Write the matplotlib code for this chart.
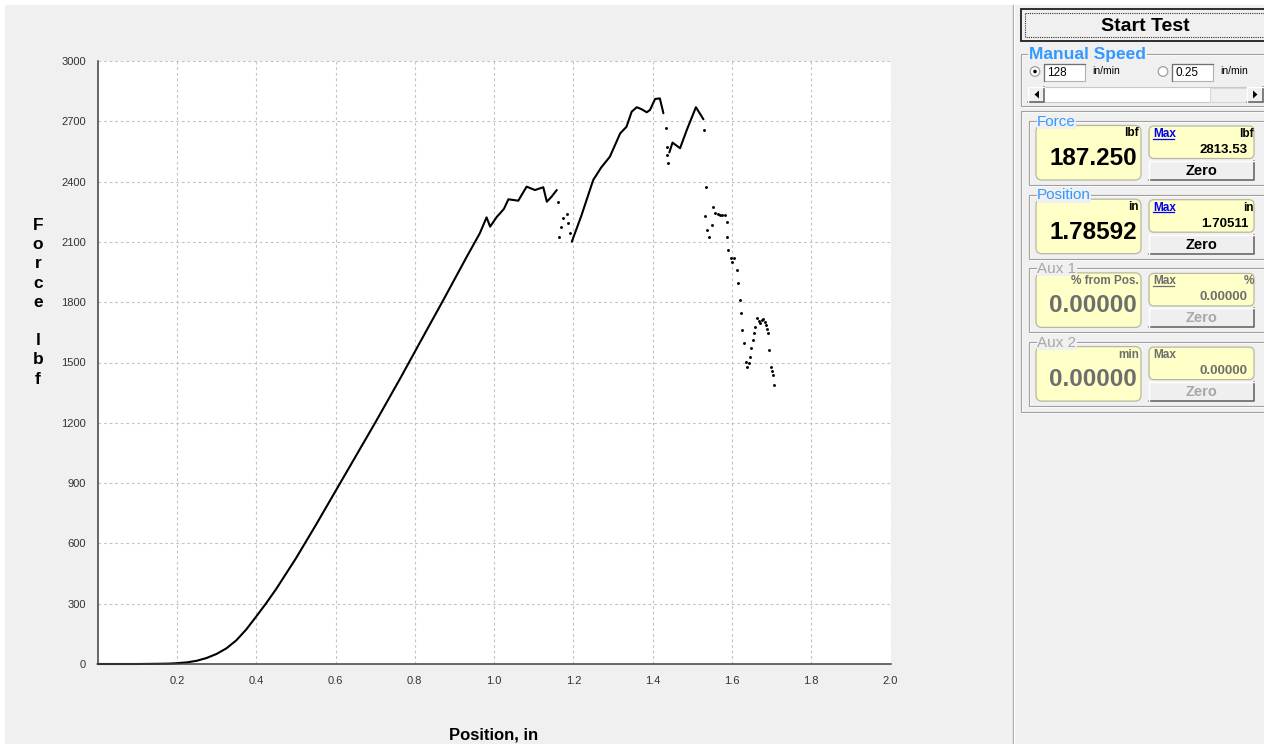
import numpy as np
import matplotlib.pyplot as plt
from matplotlib.patches import Rectangle, FancyBboxPatch, Circle, Polygon

plt.rcParams['font.family'] = ['Liberation Sans', 'DejaVu Sans']

W, H = 1264, 744
BG = '#f0f0f0'

# force vs position, continuous stretch up to the first break
pos_a = [0.0, 0.10, 0.15, 0.18, 0.20, 0.225, 0.25, 0.275, 0.30, 0.325, 0.35,
         0.375, 0.40, 0.425, 0.45, 0.50, 0.55, 0.60, 0.65, 0.70, 0.763, 0.82,
         0.872, 0.931, 0.964, 0.981, 0.990, 1.007, 1.015, 1.025, 1.036, 1.061,
         1.082, 1.103, 1.124, 1.133, 1.145, 1.158]
frc_a = [0, 0, 1, 2, 4, 8, 16, 30, 50, 78, 118,
         172, 236, 302, 372, 525, 690, 860, 1030, 1200, 1420, 1625,
         1811, 2026, 2143, 2222, 2176, 2225, 2242, 2265, 2312, 2305,
         2375, 2358, 2372, 2300, 2325, 2358]

# scattered readings around the first dip
pos_b = [1.162, 1.164, 1.169, 1.175, 1.183, 1.187, 1.191]
frc_b = [2300, 2126, 2176, 2217, 2239, 2193, 2143]

# reload up to the peak
pos_c = [1.196, 1.22, 1.250, 1.27, 1.292, 1.318, 1.334, 1.347, 1.360, 1.372,
         1.385, 1.393, 1.406, 1.418, 1.427]
frc_c = [2101, 2230, 2408, 2470, 2524, 2640, 2673, 2748, 2770, 2760,
         2745, 2756, 2811, 2814, 2740]

pos_d = [1.434, 1.435, 1.437, 1.439]
frc_d = [2665, 2574, 2530, 2491]

pos_e = [1.442, 1.450, 1.469, 1.486, 1.509, 1.528]
frc_e = [2545, 2594, 2566, 2657, 2770, 2710]

# failure tail
pos_f = [1.529, 1.534, 1.532, 1.536, 1.542, 1.549, 1.553, 1.557, 1.564, 1.570,
         1.576, 1.582, 1.587, 1.588, 1.591, 1.597, 1.601, 1.605, 1.612, 1.616,
         1.620, 1.623, 1.626, 1.630, 1.635, 1.639, 1.642, 1.645, 1.648, 1.652,
         1.655, 1.658, 1.664, 1.668, 1.671, 1.675, 1.679, 1.683, 1.686, 1.689,
         1.692, 1.694, 1.698, 1.700, 1.703, 1.706]
frc_f = [2657, 2372, 2231, 2159, 2126, 2184, 2275, 2242, 2238, 2234,
         2236, 2234, 2201, 2126, 2060, 2018, 2000, 2018, 1960, 1894,
         1811, 1745, 1662, 1595, 1504, 1479, 1500, 1529, 1570, 1612,
         1645, 1678, 1720, 1705, 1695, 1712, 1715, 1700, 1687, 1665,
         1645, 1562, 1479, 1460, 1438, 1388]

x_ticks = [0.2, 0.4, 0.6, 0.8, 1.0, 1.2, 1.4, 1.6, 1.8, 2.0]
x_labels = ['0.2', '0.4', '0.6', '0.8', '1.0', '1.2', '1.4', '1.6', '1.8', '2.0']
y_ticks = [0, 300, 600, 900, 1200, 1500, 1800, 2100, 2400, 2700, 3000]

# readout panel values
group_names = ['Force', 'Position', 'Aux 1', 'Aux 2']
group_units = ['lbf', 'in', '% from Pos.', 'min']
group_values = ['187.250', '1.78592', '0.00000', '0.00000']
max_units = ['lbf', 'in', '%', '']
max_values = ['2813.53', '1.70511', '0.00000', '0.00000']
speed_values = ['128', '0.25']

fig = plt.figure(figsize=(W / 100, H / 100), dpi=100, facecolor=BG)

# overlay in pixel coordinates for the window chrome
ui = fig.add_axes([0, 0, 1, 1], zorder=0)
ui.set_xlim(0, W)
ui.set_ylim(H, 0)
ui.axis('off')

ax = fig.add_axes([97.6 / W, (H - 664) / H, 793 / W, 603 / H], zorder=1)
ax.set_facecolor('white')
ax.set_xlim(0, 2.0)
ax.set_ylim(0, 3000)
ax.set_xticks(x_ticks)
ax.set_xticklabels(x_labels)
ax.set_yticks(y_ticks)
ax.grid(True, color='#c4c4c4', ls=(0, (2.5, 2.5)), lw=0.8)
ax.set_axisbelow(True)
for s in ['top', 'right']:
    ax.spines[s].set_visible(False)
for s in ['left', 'bottom']:
    ax.spines[s].set_color('#404040')
    ax.spines[s].set_linewidth(1.1)
ax.tick_params(length=0, labelsize=8, labelcolor='#333333')
ax.tick_params(axis='x', pad=9)
ax.tick_params(axis='y', pad=8.5)

ax.plot(pos_a, frc_a, color='k', lw=1.5, solid_capstyle='round',
        solid_joinstyle='round', clip_on=False)
ax.plot(pos_c, frc_c, color='k', lw=1.5, solid_capstyle='round',
        solid_joinstyle='round')
ax.plot(pos_e, frc_e, color='k', lw=1.5, solid_capstyle='round',
        solid_joinstyle='round')
for px, fy in [(pos_b, frc_b), (pos_d, frc_d), (pos_f, frc_f)]:
    ax.plot(px, fy, 'o', color='k', ms=2.1, mew=0, ls='none')

# axis titles
ylab = 'Force lbf'
for i, ch in enumerate(ylab):
    if ch != ' ':
        ui.text(38, 230 + 19.2 * i, ch, fontsize=12.5, fontweight='bold',
                ha='center', va='baseline')
ui.text(494, 739, 'Position, in', fontsize=12, fontweight='bold',
        ha='center', va='baseline')

# white strips along the window edge and the splitter
ui.add_patch(Rectangle((0, 0), W, 5, fc='white', ec='none'))
ui.add_patch(Rectangle((0, 0), 5, H, fc='white', ec='none'))
ui.plot([1012.5, 1012.5], [5, H], color='#a0a0a0', lw=1)
ui.plot([1013.5, 1013.5], [5, H], color='white', lw=1)


def etched(x0, y0, x1, y1):
    ui.add_patch(Rectangle((x0 + 1, y0 + 1), x1 - x0, y1 - y0, fill=False,
                           ec='white', lw=0.8))
    ui.add_patch(Rectangle((x0, y0), x1 - x0, y1 - y0, fill=False,
                           ec='#a0a0a0', lw=0.8))


def button(x0, y0, w, h):
    ui.add_patch(Rectangle((x0, y0), w, h, fc='#efefef', ec='none'))
    ui.plot([x0, x0 + w, x0 + w], [y0 + h, y0 + h, y0], color='#696969', lw=1.2)
    ui.plot([x0, x0, x0 + w], [y0 + h, y0, y0], color='white', lw=1)


# start button
ui.add_patch(Rectangle((1020.5, 8.5), 250, 32, fc='#f0f0f0', ec='#1e1e1e', lw=1.3))
ui.add_patch(Rectangle((1024.5, 12.5), 250, 24, fill=False, ec='#303030',
                       lw=0.8, ls=(0, (1, 1))))
ui.text(1145, 31, 'Start Test', fontsize=14, fontweight='bold',
        ha='center', va='baseline')

# manual speed group
etched(1020.5, 54, 1270, 106)
ui.text(1029, 59, 'Manual Speed', fontsize=12.5, fontweight='bold', color='#3399ff',
        ha='left', va='baseline', bbox=dict(fc=BG, ec='none', pad=0.5))
for k, (cx, bx) in enumerate([(1035, 1044), (1163, 1172)]):
    ui.add_patch(Circle((cx, 71.5), 4.8, fc='white', ec='#a0a0a0', lw=0.9))
    if k == 0:
        ui.add_patch(Circle((cx, 71.5), 1.8, fc='k', ec='none'))
    ui.add_patch(Rectangle((bx, 64), 41, 17, fc='white', ec='#b0b0b0', lw=0.8))
    ui.plot([bx, bx, bx + 41], [81, 64, 64], color='#707070', lw=0.9)
    ui.text(bx + 3, 76.5, speed_values[k], fontsize=8.5, ha='left', va='baseline')
    ui.text(bx + 48, 74, 'in/min', fontsize=7.5, ha='left', va='baseline')

# scroll bar
ui.add_patch(Rectangle((1028, 87), 236, 15, fc='white', ec='#c8c8c8', lw=0.8))
ui.add_patch(Rectangle((1210, 87.5), 37, 14, fc='#f0f0f0', ec='#d8d8d8', lw=0.8))
for bx, pts in [(1028, [(1039, 90.5), (1039, 98.5), (1034.5, 94.5)]),
                (1247, [(1253, 90.5), (1253, 98.5), (1257.5, 94.5)])]:
    button(bx, 87, 15.5, 14.5)
    ui.add_patch(Polygon(pts, closed=True, fc='k', ec='none'))

# readout groups
etched(1020.5, 110.5, 1270, 412)
for i in range(4):
    top = 121 + 73.7 * i
    live = i < 2
    title_c = '#3399ff' if live else '#a8a8a8'
    text_c = 'k' if live else '#6e6e6e'
    etched(1028.5, top, 1270, top + 64)
    ui.text(1037, top + 4.5, group_names[i], fontsize=11, color=title_c,
            ha='left', va='baseline', bbox=dict(fc=BG, ec='none', pad=0.3))
    ui.add_patch(FancyBboxPatch((1036, top + 4.5), 105, 54.5,
                                boxstyle='round,pad=0,rounding_size=6',
                                fc='#ffffc8', ec='#b8b8a0', lw=0.9))
    ui.text(1139, top + 15.5, group_units[i], fontsize=8.5, fontweight='bold',
            color=text_c, ha='right', va='baseline')
    ui.text(1137, top + 44, group_values[i], fontsize=17.5, fontweight='bold',
            color=text_c, ha='right', va='baseline')
    ui.add_patch(FancyBboxPatch((1149, top + 5), 105, 32.5,
                                boxstyle='round,pad=0,rounding_size=5',
                                fc='#ffffc8', ec='#b8b8a0', lw=0.9))
    max_c = '#0000ee' if live else '#6e6e6e'
    ui.text(1153, top + 16, 'Max', fontsize=8.5, fontweight='bold',
            color=max_c, ha='left', va='baseline')
    if i < 3:
        ui.plot([1153, 1174], [top + 17.5, top + 17.5], color=max_c, lw=0.9)
    ui.text(1254, top + 16, max_units[i], fontsize=8.5, fontweight='bold',
            color=text_c, ha='right', va='baseline')
    ui.text(1248, top + 32, max_values[i], fontsize=9.5, fontweight='bold',
            color=text_c, ha='right', va='baseline')
    button(1149, top + 40, 105, 19)
    ui.text(1201.5, top + 54, 'Zero', fontsize=10.5, fontweight='bold',
            color='k' if live else '#a8a8a8', ha='center', va='baseline')

fig.savefig('out.png', dpi=100, facecolor=BG)
